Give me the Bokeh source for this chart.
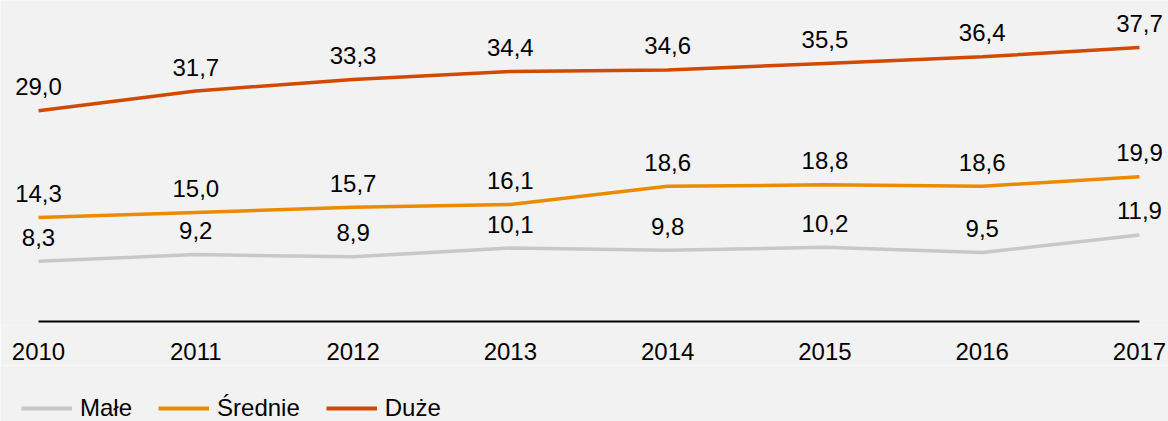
from bokeh.plotting import figure
from bokeh.layouts import column
from bokeh.models import Range1d, FixedTicker, Legend, LegendItem, ColumnDataSource
from bokeh.core.properties import value
from bokeh.embed import file_html
from bokeh.resources import INLINE

years = [2010, 2011, 2012, 2013, 2014, 2015, 2016, 2017]
male = [8.3, 9.2, 8.9, 10.1, 9.8, 10.2, 9.5, 11.9]
srednie = [14.3, 15.0, 15.7, 16.1, 18.6, 18.8, 18.6, 19.9]
duze = [29.0, 31.7, 33.3, 34.4, 34.6, 35.5, 36.4, 37.7]
series_names = ["Małe", "Średnie", "Duże"]
colors = ["#c8c8c8", "#eb8c00", "#d04a02"]

BG = "#f2f2f2"
FONT = "Liberation Sans"
FS = "24px"

TOP_H = 365
p = figure(width=1168, height=TOP_H, output_backend="svg", toolbar_location=None,
           x_range=Range1d(2009.7584, 2017.1844), y_range=Range1d(-0.55, 44.15),
           y_axis_location=None, min_border_left=0, min_border_right=0,
           min_border_top=0, min_border_bottom=TOP_H - 325)
p.background_fill_color = BG
p.border_fill_color = BG
p.outline_line_color = None
p.xgrid.visible = False
p.ygrid.visible = False

# axis line
p.segment(x0=[years[0]], y0=[0], x1=[years[-1]], y1=[0], line_color="black", line_width=2)

series = [male, srednie, duze]
for name, vals, col in zip(series_names, series, colors):
    src = ColumnDataSource(dict(x=years, y=vals, lab=[f"{v:.1f}".replace(".", ",") for v in vals]))
    p.line("x", "y", source=src, line_color=col, line_width=3.5)
    p.text("x", "y", text="lab", source=src, text_align="center", text_baseline="middle",
           y_offset=-24, text_font=value(FONT), text_font_size=value(FS), text_color="#000000")

ax = p.xaxis[0]
ax.ticker = FixedTicker(ticks=years)
ax.major_label_overrides = {y: str(y) for y in years}
ax.axis_line_color = None
ax.major_tick_line_color = None
ax.minor_tick_line_color = None
ax.major_label_text_font = FONT
ax.major_label_text_font_size = FS
ax.major_label_text_color = "#000000"
ax.major_label_standoff = 11

# legend strip (series drawn outside its visible range; only the legend shows)
q = figure(width=1168, height=421 - TOP_H, output_backend="svg", toolbar_location=None,
           x_range=Range1d(0, 1), y_range=Range1d(0, 1),
           x_axis_location=None, y_axis_location=None,
           min_border_left=0, min_border_right=0, min_border_top=0, min_border_bottom=0)
q.background_fill_color = BG
q.border_fill_color = BG
q.outline_line_color = None
q.xgrid.visible = False
q.ygrid.visible = False
items = []
for name, vals, col in zip(series_names, series, colors):
    r = q.line(x=years, y=vals, line_color=col, line_width=4)
    items.append(LegendItem(label=name, renderers=[r]))
legend = Legend(items=items, orientation="horizontal", location=(21, -1),
                label_text_font=FONT, label_text_font_size=FS, label_text_color="#000000",
                glyph_width=51, glyph_height=24, label_height=24, label_standoff=8, spacing=26,
                padding=0, margin=0, background_fill_alpha=0, border_line_color=None)
q.add_layout(legend, "center")

layout = column(p, q, spacing=0)
html = file_html(layout, INLINE)
html = html.replace("<body>", '<body style="background:#f2f2f2">', 1)
open("out.html", "w").write(html)
